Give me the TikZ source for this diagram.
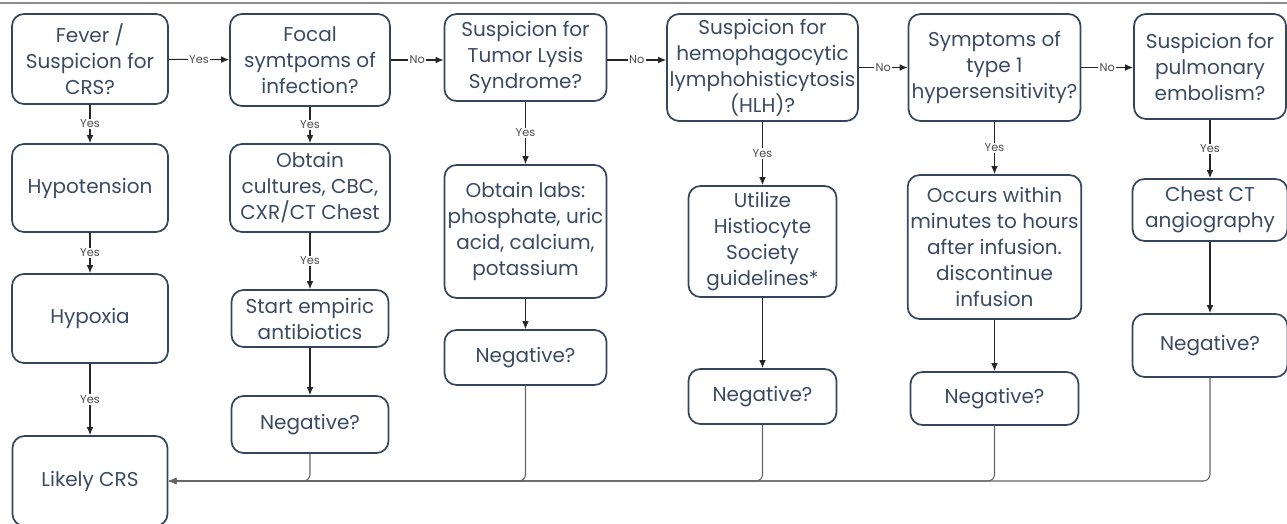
\documentclass[tikz,border=0pt]{standalone}
\usepackage{fontspec}
\setmainfont{Poppins}
\usetikzlibrary{arrows.meta}
\definecolor{boxline}{HTML}{34465E}
\definecolor{boxtext}{HTML}{3A4A62}

\begin{document}
\begin{tikzpicture}[x=0.75pt, y=-0.75pt,
  box/.style={rectangle, rounded corners=9pt, draw=boxline, line width=1.3pt, text=boxtext, align=center, inner sep=2pt, font=\fontsize{15}{19.5}\selectfont},
  sz/.style 2 args={minimum width=#1*0.75pt, minimum height=#2*0.75pt},
  lbl/.style={fill=white, inner sep=1pt, text=black!70, font=\fontsize{8.5}{9}\selectfont},
  >={Latex[length=6pt,width=5pt]}]
	\useasboundingbox (0,0) rectangle (1287,524);
	\draw [black!45, line width=0.8pt] (0,3) -- (1287,3);

	% CRS column
	\node [box, sz={156}{90}] (fever) at (90,59) {Fever /\\Suspicion for\\CRS?};
	\node [box, sz={156}{88}] (hypot) at (90,188) {Hypotension};
	\node [box, sz={156}{89}] (hypox) at (90,318.5) {Hypoxia};
	\node [box, sz={155}{90}] (crs) at (90,481) {Likely CRS};

	% infection
	\node [box, sz={160}{92}] (focal) at (310,60) {Focal\\symtpoms of\\infection?};
	\node [box, sz={160}{88}] (cult) at (310,188) {Obtain\\cultures, CBC,\\CXR/CT Chest};
	\node [box, sz={157}{57}] (abx) at (310,318.5) {Start empiric\\antibiotics};
	\node [box, sz={157}{57}] (neg2) at (310,424.5) {Negative?};

	% tumor lysis
	\node [box, sz={162}{87}] (tls) at (525.5,57.5) {Suspicion for\\Tumor Lysis\\Syndrome?};
	\node [box, sz={162}{133}] (labs) at (525.5,231.5) {Obtain labs:\\phosphate, uric\\acid, calcium,\\potassium};
	\node [box, sz={162}{55}] (neg3) at (525.5,357.5) {Negative?};

	% HLH
	\node [box, sz={189}{107}] (hlh) at (762.5,67.5) {Suspicion for\\hemophagocytic\\lymphohisticytosis\\(HLH)?};
	\node [box, sz={148}{111}] (hist) at (762.5,241.5) {Utilize\\Histiocyte\\Society\\guidelines*};
	\node [box, sz={148}{55}] (neg4) at (762.5,396.5) {Negative?};

	% hypersensitivity
	\node [box, sz={172}{107}] (hyp1) at (994.5,67.5) {Symptoms of\\type 1\\hypersensitivity?};
	\node [box, sz={168}{144}] (occ) at (994.5,247) {Occurs within\\minutes to hours\\after infusion.\\discontinue\\infusion};
	\node [box, sz={168}{53}] (neg5) at (994.5,398.5) {Negative?};

	% embolism
	\node [box, sz={152}{105}] (pe) at (1210,66.5) {Suspicion for\\pulmonary\\embolism?};
	\node [box, sz={155}{62}] (ct) at (1210,210) {Chest CT\\angiography};
	\node [box, sz={155}{63}] (neg6) at (1210,345.5) {Negative?};

	\begin{scope}[->, line width=0.8pt, draw=black!85]
		\draw (fever) to node [lbl] {Yes} (focal);
		\draw (focal.east) to node [lbl] {No} (focal.east -| tls.west);
		\draw (tls.east |- focal.east) to node [lbl] {No} (focal.east -| hlh.west);
		\draw (hlh.east) to node [lbl] {No} (hlh.east -| hyp1.west);
		\draw (hyp1.east) to node [lbl] {No} (hyp1.east -| pe.west);

		\draw (fever) to node [lbl] {Yes} (hypot);
		\draw (hypot) to node [lbl] {Yes} (hypox);
		\draw (hypox) to node [lbl] {Yes} (crs);
		\draw (focal) to node [lbl] {Yes} (cult);
		\draw (cult) to node [lbl] {Yes} (abx);
		\draw (abx) -- (neg2);
		\draw (tls) to node [lbl] {Yes} (labs);
		\draw (labs) -- (neg3);
		\draw (hlh) to node [lbl] {Yes} (hist);
		\draw (hist) -- (neg4);
		\draw (hyp1) to node [lbl] {Yes} (occ);
		\draw (occ) -- (neg5);
		\draw (pe) to node [lbl] {Yes} (ct);
		\draw (ct) -- (neg6);
	\end{scope}

	\begin{scope}[->, line width=0.8pt, draw=black!60, rounded corners=5pt]
		\draw (neg6.south) |- (crs.east);
		\draw (neg5.south) |- (crs.east);
		\draw (neg4.south) |- (crs.east);
		\draw (neg3.south) |- (crs.east);
		\draw (neg2.south) |- (crs.east);
	\end{scope}
\end{tikzpicture}
\end{document}
